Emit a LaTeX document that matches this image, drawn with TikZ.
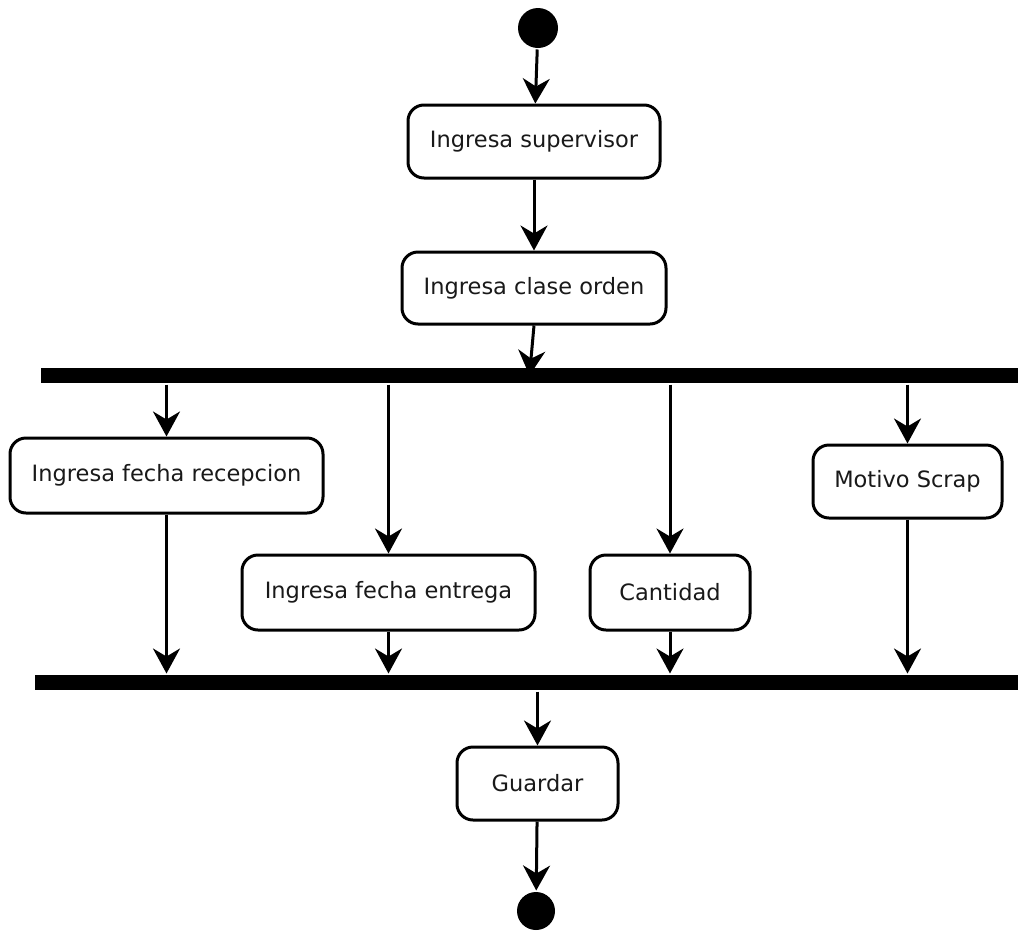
\documentclass[tikz,border=0pt]{standalone}
\usepackage{fontspec}
\setmainfont{DejaVu Sans}
\usetikzlibrary{arrows.meta}
\begin{document}
\begin{tikzpicture}[x=1pt,y=-1pt,
  line width=3pt,
  flow/.style={-{Stealth[length=25pt,width=27pt,inset=8pt]}},
  activity/.style={draw,rounded corners=16pt,fill=white,inner sep=0pt,
    font=\fontsize{22.5}{27}\selectfont,text=black!90},
  bar/.style={fill=black,draw=none,inner sep=0pt,minimum height=15pt},
  dot/.style={circle,fill=black,draw=none,inner sep=0pt}]
\useasboundingbox (0,0) rectangle (1018,930);

% initial and final states
\node[dot,minimum size=40pt] (start) at (538,28) {};
\node[dot,minimum size=38pt] (stop) at (536,911) {};

% actions
\node[activity,minimum width=252pt,minimum height=73pt] (sup) at (534,141.5) {Ingresa supervisor};
\node[activity,minimum width=264pt,minimum height=72pt] (clase) at (534,288) {Ingresa clase orden};
\node[activity,minimum width=313pt,minimum height=75pt] (recep) at (166.5,475.5) {Ingresa fecha recepcion};
\node[activity,minimum width=293pt,minimum height=75pt] (entrega) at (388.5,592.5) {Ingresa fecha entrega};
\node[activity,minimum width=160pt,minimum height=75pt] (cant) at (670,592.5) {Cantidad};
\node[activity,minimum width=189pt,minimum height=73pt] (scrap) at (907.5,481.5) {Motivo Scrap};
\node[activity,minimum width=161pt,minimum height=73pt] (guardar) at (537.5,783.5) {Guardar};

% fork and join bars
\node[bar,minimum width=977pt] (fork) at (529.5,375.5) {};
\node[bar,minimum width=983pt] (join) at (526.5,682.5) {};

% control flow
\draw[flow] (start) -- (sup);
\draw[flow] (sup) -- (clase);
\draw[flow] (clase.south) -- (fork.center);
\draw[flow] (fork.south -| recep.north) -- (recep.north);
\draw[flow] (fork.south -| entrega.north) -- (entrega.north);
\draw[flow] (fork.south -| cant.north) -- (cant.north);
\draw[flow] (fork.south -| scrap.north) -- (scrap.north);
\draw[flow] (recep.south) -- (recep.south |- join.north);
\draw[flow] (entrega.south) -- (entrega.south |- join.north);
\draw[flow] (cant.south) -- (cant.south |- join.north);
\draw[flow] (scrap.south) -- (scrap.south |- join.north);
\draw[flow] (join.south -| guardar.north) -- (guardar.north);
\draw[flow] (guardar) -- (stop);
\end{tikzpicture}
\end{document}
